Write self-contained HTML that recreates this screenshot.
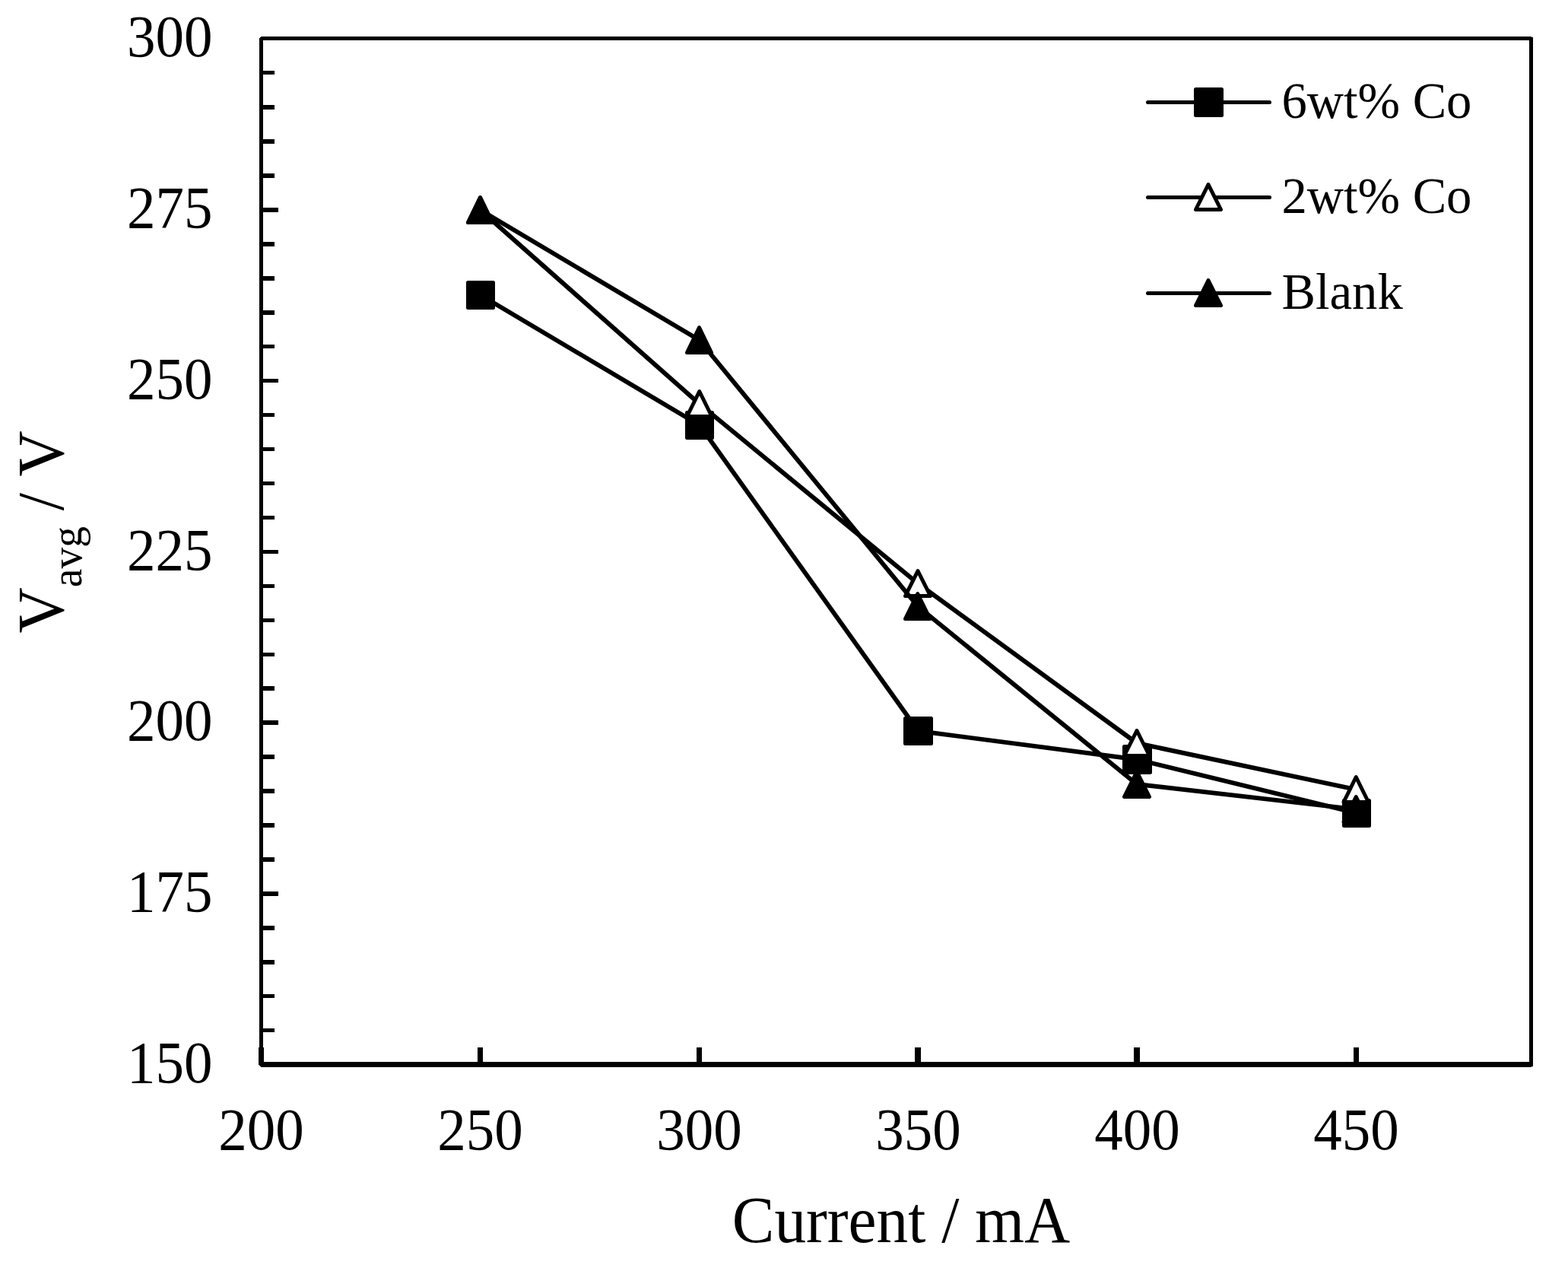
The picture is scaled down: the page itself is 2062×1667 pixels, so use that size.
<!DOCTYPE html>
<html lang="en">
<head>
<meta charset="utf-8">
<title>Vavg / V versus Current / mA</title>
<style>
html,body{margin:0;padding:0;background:#fff;}
body{width:2062px;height:1667px;overflow:hidden;}
svg{display:block;}
text{font-family:"Liberation Serif","Times New Roman",Times,serif;fill:#000;}
.tick{font-size:75px;}
.leg{font-size:66.67px;}
.ttl{font-size:83.33px;}
</style>
</head>
<body>
<svg role="img" aria-label="Line chart of Vavg / V against Current / mA for 6wt% Co, 2wt% Co and Blank" width="2062" height="1667" viewBox="0 0 2062 1667">
<rect x="0" y="0" width="2062" height="1667" fill="#fff"/>

<g fill="#000" shape-rendering="crispEdges">
<rect x="341" y="48" width="5" height="1355"/>
<rect x="341" y="48" width="1675" height="5"/>
<rect x="2011" y="48" width="5" height="1355"/>
<rect x="340" y="1396" width="1676" height="7"/>
<rect x="340" y="1377" width="7" height="26"/>
<rect x="628" y="1377" width="7" height="20"/>
<rect x="916" y="1377" width="7" height="20"/>
<rect x="1203" y="1377" width="8" height="20"/>
<rect x="1491" y="1377" width="8" height="20"/>
<rect x="1780" y="1377" width="7" height="20"/>
<path d="M341 48h2l-2 2z" fill="#fff"/>
<path d="M340 1403v-3l3 3z" fill="#fff"/>
<rect x="2014" y="48" width="2" height="1" fill="#fff"/>
<rect x="2014" y="1402" width="2" height="1" fill="#fff"/>
<rect x="346" y="93" width="15" height="5"/>
<rect x="346" y="138" width="15" height="6"/>
<rect x="346" y="183" width="15" height="6"/>
<rect x="346" y="228" width="15" height="6"/>
<rect x="346" y="273" width="20" height="6"/>
<rect x="346" y="318" width="15" height="6"/>
<rect x="346" y="363" width="15" height="6"/>
<rect x="346" y="408" width="15" height="6"/>
<rect x="346" y="453" width="15" height="5"/>
<rect x="346" y="498" width="20" height="5"/>
<rect x="346" y="543" width="15" height="5"/>
<rect x="346" y="588" width="15" height="5"/>
<rect x="346" y="633" width="15" height="5"/>
<rect x="346" y="678" width="15" height="5"/>
<rect x="346" y="723" width="20" height="5"/>
<rect x="346" y="768" width="15" height="5"/>
<rect x="346" y="813" width="15" height="5"/>
<rect x="346" y="858" width="15" height="5"/>
<rect x="346" y="902" width="15" height="6"/>
<rect x="346" y="947" width="20" height="6"/>
<rect x="346" y="992" width="15" height="6"/>
<rect x="346" y="1037" width="15" height="6"/>
<rect x="346" y="1082" width="15" height="6"/>
<rect x="346" y="1127" width="15" height="6"/>
<rect x="346" y="1172" width="20" height="6"/>
<rect x="346" y="1217" width="15" height="6"/>
<rect x="346" y="1262" width="15" height="6"/>
<rect x="346" y="1307" width="15" height="5"/>
<rect x="346" y="1352" width="15" height="5"/>
</g>
<g>
<polyline points="632,388 920,559 1207.5,961 1495.5,998.5 1784,1069" fill="none" stroke="#000" stroke-width="5.9" stroke-linejoin="round" stroke-linecap="round"/>
<rect x="615.5" y="371.5" width="33" height="33" fill="#000" stroke="#000" stroke-width="5" stroke-linejoin="round"/>
<rect x="903.5" y="542.5" width="33" height="33" fill="#000" stroke="#000" stroke-width="5" stroke-linejoin="round"/>
<rect x="1190.5" y="944.5" width="34" height="33" fill="#000" stroke="#000" stroke-width="5" stroke-linejoin="round"/>
<rect x="1478.5" y="981.5" width="34" height="34" fill="#000" stroke="#000" stroke-width="5" stroke-linejoin="round"/>
<rect x="1767.5" y="1052.5" width="33" height="33" fill="#000" stroke="#000" stroke-width="5" stroke-linejoin="round"/>
<polyline points="631.5,276 919.75,531 1207,767 1495,977 1783.25,1038" fill="none" stroke="#000" stroke-width="5.9" stroke-linejoin="round" stroke-linecap="round"/>
<path d="M631.5 259.5L647.5 292.5L615.5 292.5Z" fill="#fff" stroke="#000" stroke-width="5" stroke-linejoin="round"/>
<path d="M919.75 514.5L936 547.5L903.5 547.5Z" fill="#fff" stroke="#000" stroke-width="5" stroke-linejoin="round"/>
<path d="M1207 750.5L1223.5 783.5L1190.5 783.5Z" fill="#fff" stroke="#000" stroke-width="5" stroke-linejoin="round"/>
<path d="M1495 960.5L1511.5 993.5L1478.5 993.5Z" fill="#fff" stroke="#000" stroke-width="5" stroke-linejoin="round"/>
<path d="M1783.25 1021.5L1799.5 1054.5L1767 1054.5Z" fill="#fff" stroke="#000" stroke-width="5" stroke-linejoin="round"/>
<polyline points="631.5,276 919.5,447 1206.75,797 1495,1031 1783.25,1064" fill="none" stroke="#000" stroke-width="5.9" stroke-linejoin="round" stroke-linecap="round"/>
<path d="M631.5 259.5L647.5 292.5L615.5 292.5Z" fill="#000" stroke="#000" stroke-width="5" stroke-linejoin="round"/>
<path d="M919.5 430.5L935.5 463.5L903.5 463.5Z" fill="#000" stroke="#000" stroke-width="5" stroke-linejoin="round"/>
<path d="M1206.75 780.5L1223 813.5L1190.5 813.5Z" fill="#000" stroke="#000" stroke-width="5" stroke-linejoin="round"/>
<path d="M1495 1014.5L1511.5 1047.5L1478.5 1047.5Z" fill="#000" stroke="#000" stroke-width="5" stroke-linejoin="round"/>
<path d="M1783.25 1047.5L1799.5 1080.5L1767 1080.5Z" fill="#000" stroke="#000" stroke-width="5" stroke-linejoin="round"/>
</g>
<g>
<line x1="1509.5" y1="134.5" x2="1669.5" y2="134.5" stroke="#000" stroke-width="5" stroke-linecap="round"/>
<rect x="1572.5" y="117.5" width="34" height="34" fill="#000" stroke="#000" stroke-width="5" stroke-linejoin="round"/>
<text class="leg" transform="translate(1685.5,155.3) scale(1,1.03)">6wt% Co</text>
<line x1="1509.5" y1="259.5" x2="1669.5" y2="259.5" stroke="#000" stroke-width="5" stroke-linecap="round"/>
<path d="M1589 242.5L1605.5 275.5L1572.5 275.5Z" fill="#fff" stroke="#000" stroke-width="5" stroke-linejoin="round"/>
<text class="leg" transform="translate(1685.5,280.3) scale(1,1.03)">2wt% Co</text>
<line x1="1509.5" y1="385.5" x2="1669.5" y2="385.5" stroke="#000" stroke-width="5" stroke-linecap="round"/>
<path d="M1589 368.5L1605.5 401.5L1572.5 401.5Z" fill="#000" stroke="#000" stroke-width="5" stroke-linejoin="round"/>
<text class="leg" transform="translate(1685.5,406.3) scale(1,1.03)">Blank</text>
</g>
<g>
<text class="tick" transform="translate(279.5,1423) scale(1,1.03)" text-anchor="end">150</text>
<text class="tick" transform="translate(279.5,1198.17) scale(1,1.03)" text-anchor="end">175</text>
<text class="tick" transform="translate(279.5,973.33) scale(1,1.03)" text-anchor="end">200</text>
<text class="tick" transform="translate(279.5,748.5) scale(1,1.03)" text-anchor="end">225</text>
<text class="tick" transform="translate(279.5,523.67) scale(1,1.03)" text-anchor="end">250</text>
<text class="tick" transform="translate(279.5,298.83) scale(1,1.03)" text-anchor="end">275</text>
<text class="tick" transform="translate(279.5,74) scale(1,1.03)" text-anchor="end">300</text>
<text class="tick" transform="translate(343.5,1511) scale(1,1.03)" text-anchor="middle">200</text>
<text class="tick" transform="translate(631.5,1511) scale(1,1.03)" text-anchor="middle">250</text>
<text class="tick" transform="translate(919.5,1511) scale(1,1.03)" text-anchor="middle">300</text>
<text class="tick" transform="translate(1207.5,1511) scale(1,1.03)" text-anchor="middle">350</text>
<text class="tick" transform="translate(1495.5,1511) scale(1,1.03)" text-anchor="middle">400</text>
<text class="tick" transform="translate(1783.5,1511) scale(1,1.03)" text-anchor="middle">450</text>
</g>
<text class="ttl" transform="translate(1185,1633) scale(1,1.03)" text-anchor="middle">Current / mA</text>
<text class="ttl" transform="translate(83.3,699.4) rotate(-90) scale(1,1.03)" text-anchor="middle">V<tspan font-size="55.5" dy="22.7">avg</tspan><tspan dy="-22.7"> / </tspan><tspan dx="0.7">V</tspan></text>
</svg>
</body>
</html>
